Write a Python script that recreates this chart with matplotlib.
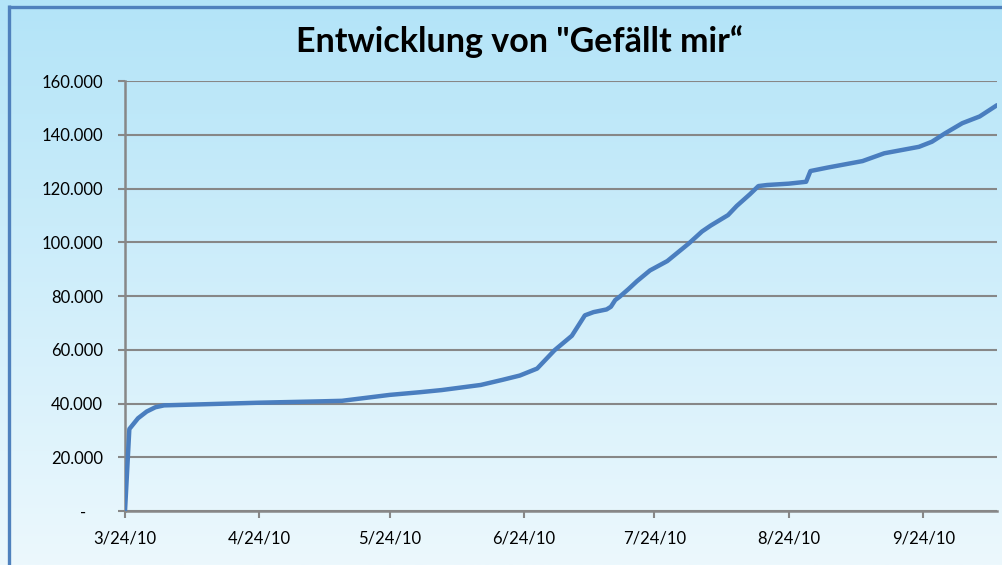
import numpy as np
import matplotlib
matplotlib.use("Agg")
import matplotlib.pyplot as plt
import matplotlib.dates as mdates
from matplotlib.ticker import FuncFormatter, MultipleLocator
from matplotlib.lines import Line2D
import datetime as dt

# ---- data ----
start = dt.date(2010, 3, 24)
day_offsets = [0, 1, 3, 5, 7, 9, 20, 31, 45, 50, 55, 61, 68, 73, 82, 87, 91, 95,
               99, 103, 106, 108, 111, 112, 113, 114, 116, 118, 121, 125, 130,
               133, 135, 139, 141, 144, 146, 148, 153, 157, 158, 162, 167, 170,
               175, 179, 183, 186, 189, 193, 197, 201]
likes = [0, 30500, 34500, 37000, 38600, 39300, 39800, 40300, 40800, 41000, 42000,
         43200, 44200, 45000, 46900, 48800, 50400, 53000, 59800, 65200, 72800,
         74000, 75000, 76000, 78500, 79700, 82500, 85500, 89500, 93000, 99600,
         104000, 106200, 110100, 113500, 117800, 120900, 121300, 121800, 122500,
         126500, 127800, 129300, 130200, 133100, 134300, 135500, 137400, 140500,
         144300, 146800, 151000]
dates = [start + dt.timedelta(days=d) for d in day_offsets]
tick_dates = [dt.date(2010, m, 24) for m in range(3, 10)]
tick_labels = [f"{m}/24/10" for m in range(3, 10)]
title = "Entwicklung von \"Gefällt mir\u201c"

W, H = 1003, 565
fig = plt.figure(figsize=(W / 100, H / 100), dpi=100)

# background gradient
bg = fig.add_axes([0, 0, 1, 1], zorder=-10)
top = np.array([179, 228, 248]) / 255
bot = np.array([236, 248, 253]) / 255
t = np.linspace(0, 1, 256)[:, None]
grad = top[None, :] * (1 - t) + bot[None, :] * t
bg.imshow(grad[:, None, :], aspect='auto', extent=[0, 1, 0, 1])
bg.set_axis_off()

# blue chart border (top and left)
border_c = '#4f81bd'
fig.add_artist(Line2D([9.5 / W, 1], [1 - 6.5 / H, 1 - 6.5 / H], color=border_c, lw=2.4,
                      transform=fig.transFigure, solid_capstyle='butt'))
fig.add_artist(Line2D([9.5 / W, 9.5 / W], [0, 1 - 5 / H], color=border_c, lw=2.4,
                      transform=fig.transFigure, solid_capstyle='butt'))

ax = fig.add_axes([125 / W, 1 - 511 / H, (997 - 125) / W, (511 - 81) / H])
ax.set_facecolor('none')
xs = mdates.date2num(dates)
ax.plot(xs, likes, color='#4a7ebf', lw=3.2, solid_capstyle='round',
        solid_joinstyle='round', zorder=3)

ax.set_ylim(0, 160000)
ax.yaxis.set_major_locator(MultipleLocator(20000))
ax.set_xlim(mdates.date2num(start), mdates.date2num(start + dt.timedelta(days=201.2)))
ax.set_xticks(mdates.date2num(tick_dates))
ax.set_xticklabels(tick_labels)


def yfmt(v, pos):
    if abs(v) < 1:
        return "-    "
    return f"{int(round(v)):,}".replace(",", ".")


ax.yaxis.set_major_formatter(FuncFormatter(yfmt))
ax.grid(axis='y', color='#878787', lw=1.5, zorder=1)
ax.set_axisbelow(True)
for s in ['top', 'right']:
    ax.spines[s].set_visible(False)
for s in ['left', 'bottom']:
    ax.spines[s].set_color('#878787')
    ax.spines[s].set_linewidth(1.8)
ax.tick_params(axis='both', colors='#878787', length=5, width=1.5, labelcolor='black',
               labelsize=12)
ax.tick_params(axis='y', pad=11)
ax.tick_params(axis='x', pad=9)
for lab in ax.get_xticklabels() + ax.get_yticklabels():
    lab.set_fontfamily('Lato')

fig.text(520 / W, 1 - 42 / H, title, ha='center', va='center', fontsize=24.5,
         fontweight='bold', family='Lato', color='black')

fig.savefig('out.png', dpi=100)
